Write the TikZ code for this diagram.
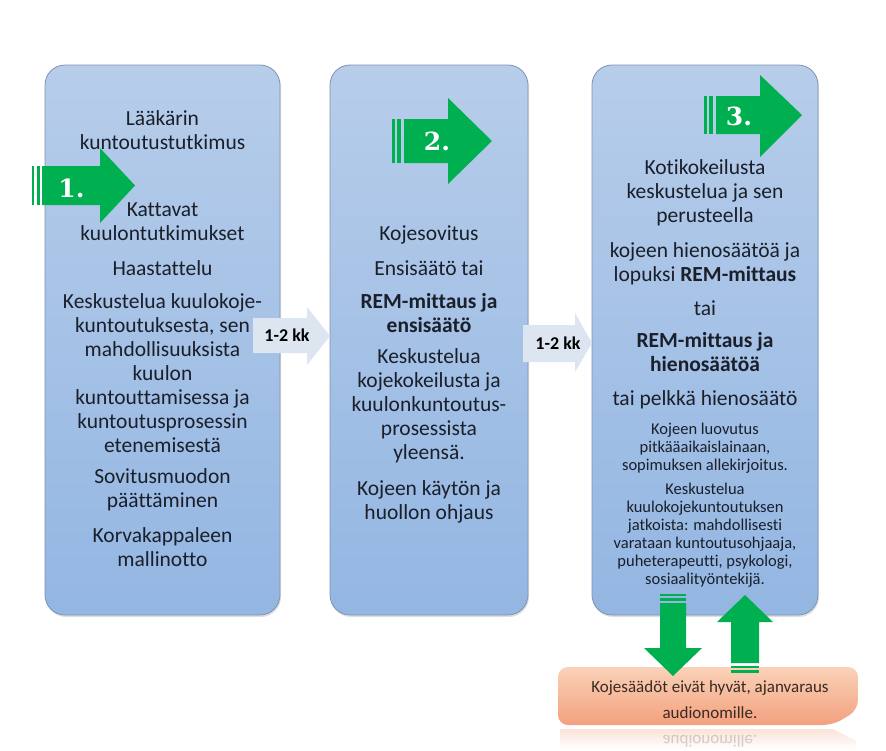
\documentclass[tikz,border=0pt]{standalone}
\usepackage{fontspec}
\setmainfont{Carlito}[Ligatures={NoCommon}]
\newfontfamily\numfont{DejaVu Serif}
\usetikzlibrary{shadows}
\definecolor{txt}{HTML}{1A1F2A}
\definecolor{boxtop}{HTML}{B7CDEA}
\definecolor{boxbot}{HTML}{93B6E2}
\definecolor{boxline}{HTML}{7D93B2}
\definecolor{grn}{HTML}{00B050}
\definecolor{kkfill}{HTML}{DCE5F0}
\definecolor{ortop}{HTML}{FAD2B8}
\definecolor{orbot}{HTML}{F3A07E}
\definecolor{ortxt}{HTML}{3A2A22}
\begin{document}
\begin{tikzpicture}[x=1pt,y=-1pt,
  stagebox/.style={draw=boxline, line width=0.8pt, rounded corners=20pt, top color=boxtop, bottom color=boxbot, inner sep=0pt, drop shadow={opacity=0.25, shadow xshift=1pt, shadow yshift=-2pt}},
  bodytext/.style={text=txt, align=center, font=\fontsize{21.5}{24}\selectfont, inner sep=0pt},
  smalltext/.style={text=txt, align=center, font=\fontsize{16.5}{18}\selectfont, inner sep=0pt},
  greenarrow/.style={fill=grn, draw=none},
  numlabel/.style={text=white, font=\numfont\bfseries\fontsize{25}{25}\selectfont, inner sep=0pt},
  kkarrow/.style={fill=kkfill, draw=none},
  kklabel/.style={text=black, font=\bfseries\fontsize{18}{20}\selectfont, inner sep=0pt},
  ortext/.style={text=ortxt, align=center, font=\fontsize{17}{26}\selectfont, inner sep=0pt},
]
\fill[white] (0,0) rectangle (886,750);
\useasboundingbox (0,0) rectangle (886,750);

% stage boxes
\node[stagebox, minimum width=235pt, minimum height=550pt] (s1) at (162.5,340) {};
\node[stagebox, minimum width=198pt, minimum height=550pt] (s2) at (429,340) {};
\node[stagebox, minimum width=226pt, minimum height=550pt] (s3) at (705,340) {};

% box 1 text
\node[bodytext] (t11) at (162.5,130) {Lääkärin\\kuntoutustutkimus};
\node[bodytext] (t12) at (162.5,222) {Kattavat\\kuulontutkimukset};
\node[bodytext] (t13) at (162.5,268) {Haastattelu};
\node[bodytext] (t14) at (162.5,373.5) {Keskustelua kuulokoje-\\kuntoutuksesta, sen\\mahdollisuuksista\\kuulon\\kuntouttamisessa ja\\kuntoutusprosessin\\etenemisestä};
\node[bodytext] (t15) at (162.5,490) {Sovitusmuodon\\päättäminen};
\node[bodytext] (t16) at (162.5,547) {Korvakappaleen\\mallinotto};

% box 2 text
\node[bodytext] (t21) at (429,235) {Kojesovitus};
\node[bodytext] (t22) at (429,268) {Ensisäätö tai};
\node[bodytext] (t23) at (429,313.5) {\textbf{REM-mittaus ja}\\\textbf{ensisäätö}};
\node[bodytext] (t24) at (429,406) {Keskustelua\\kojekokeilusta ja\\kuulonkuntoutus-\\prosessista\\yleensä.};
\node[bodytext] (t25) at (429,501.5) {Kojeen käytön ja\\huollon ohjaus};

% box 3 text
\node[bodytext] (t31) at (705,193) {Kotikokeilusta\\keskustelua ja sen\\perusteella};
\node[bodytext] (t32) at (705,263.5) {kojeen hienosäätöä ja\\lopuksi \textbf{REM-mittaus}};
\node[bodytext] (t33) at (705,308) {tai};
\node[bodytext] (t34) at (705,352) {\textbf{REM-mittaus ja}\\\textbf{hienosäätöä}};
\node[bodytext] (t35) at (705,400) {tai pelkkä hienosäätö};
\node[smalltext] (t36) at (705,448) {Kojeen luovutus\\pitkääaikaislainaan,\\sopimuksen allekirjoitus.};
\node[smalltext] (t37) at (705,535) {Keskustelua\\kuulokojekuntoutuksen\\jatkoista: mahdollisesti\\varataan kuntoutusohjaaja,\\puheterapeutti, psykologi,\\sosiaalityöntekijä.};

% 1-2 kk arrows
\fill[kkarrow] (253,318) -- (307,318) -- (307,307) -- (330,336) -- (307,365) -- (307,353) -- (253,353) -- cycle;
\node[kklabel] (kk1) at (287,335) {1-2 kk};
\fill[kkarrow] (523,325) -- (575,325) -- (575,313) -- (592,343) -- (575,372) -- (575,362) -- (523,362) -- cycle;
\node[kklabel] (kk2) at (558,343) {1-2 kk};

% green arrows
\fill[greenarrow] (32,166) rectangle (34,205);
\fill[greenarrow] (36.5,166) rectangle (39.5,205);
\fill[greenarrow] (42,166) -- (100,166) -- (100,148) -- (135,185.5) -- (100,223) -- (100,205) -- (42,205) -- cycle;
\node[numlabel] (n1) at (71.5,188) {1.};

\fill[greenarrow] (392,119) rectangle (394.5,163);
\fill[greenarrow] (397,119) rectangle (401,163);
\fill[greenarrow] (404,119) -- (448,119) -- (448,98) -- (492,141) -- (448,184) -- (448,163) -- (404,163) -- cycle;
\node[numlabel] (n2) at (437,141) {2.};

\fill[greenarrow] (704,96) rectangle (706.5,134);
\fill[greenarrow] (709,96) rectangle (713,134);
\fill[greenarrow] (716,96) -- (760,96) -- (760,75) -- (802,115) -- (760,157) -- (760,134) -- (716,134) -- cycle;
\node[numlabel] (n3) at (739,116) {3.};

% orange box and reflection
\shade[top color=orbot!30, bottom color=white, draw=none] (560,729) -- (833,729) -- (856,741) -- (856,750) -- (560,750) -- cycle;
\node[ortext, yscale=-1, opacity=0.2] (refl) at (710,741) {audionomille.};
\shade[top color=ortop, bottom color=orbot, rounded corners=10pt] (558,667) -- (858,667) -- (858,710) -- (833,725) -- (558,725) -- cycle;
\node[ortext] (ob) at (710,700) {Kojesäädöt eivät hyvät, ajanvaraus\\audionomille.};

% vertical green arrows
\fill[greenarrow] (660,594) rectangle (686,596);
\fill[greenarrow] (660,598) rectangle (686,600.5);
\fill[greenarrow] (660,603) -- (686,603) -- (686,648) -- (702,648) -- (673,676) -- (644,648) -- (660,648) -- cycle;
\fill[greenarrow] (745,595) -- (773,622) -- (759,622) -- (759,663) -- (731,663) -- (731,622) -- (717,622) -- cycle;
\fill[greenarrow] (731,665.5) rectangle (759,668);
\fill[greenarrow] (731,670) rectangle (759,673);
\end{tikzpicture}
\end{document}
